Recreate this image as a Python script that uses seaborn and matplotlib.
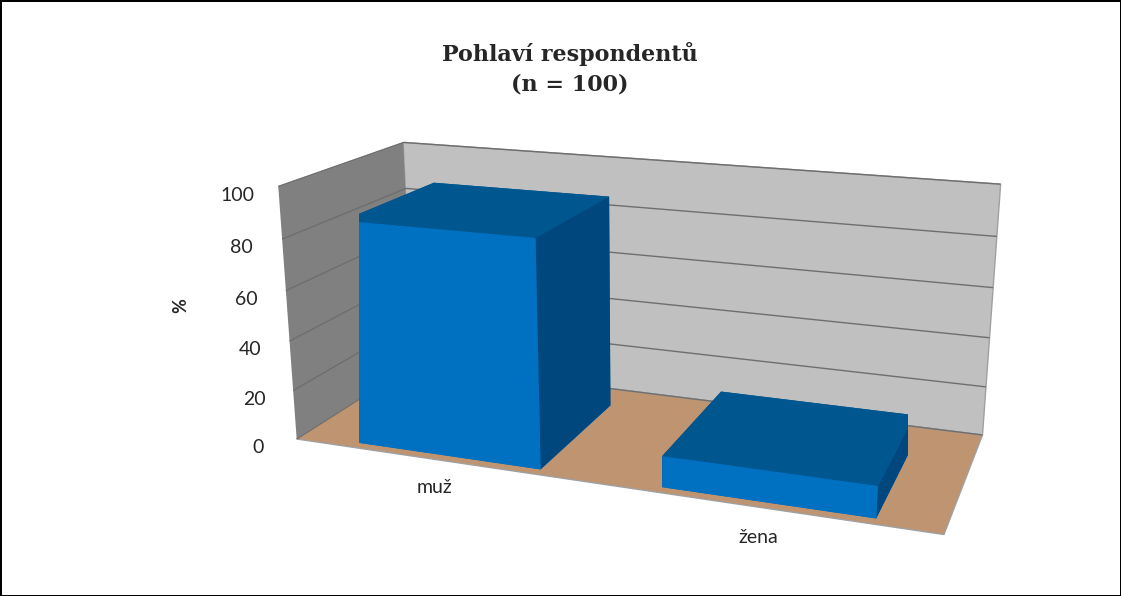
import numpy as np
import pandas as pd
import matplotlib
matplotlib.use("Agg")
import matplotlib.pyplot as plt
import seaborn as sns

# data
categories = ["muž", "žena"]
percent = [88, 12]
z_ticks = [0, 20, 40, 60, 80, 100]

front_color = "#0070C0"
top_color = "#00568F"
side_color = "#00477D"

sns.set_theme(style="white")
plt.rcParams["font.family"] = ["Lato", "DejaVu Sans"]

df = pd.DataFrame({"pohlavi": categories, "procento": percent})

fig = plt.figure(figsize=(11.21, 5.96), dpi=100)
fig.patch.set_edgecolor("black")
fig.patch.set_linewidth(2)

ax = fig.add_axes([0.135, 0.0, 0.86, 0.92], projection="3d")
ax.patch.set_alpha(0)
ax.view_init(elev=17, azim=-70)
ax.set_proj_type("persp", focal_length=0.5)
ax.set_box_aspect((2.75, 1.05, 1.1), zoom=1.33)

n = len(df)
xpos = np.arange(n)
width, depth = 0.62, 0.75
face_cols = []
for _ in range(n):
    # -z, +z, -y (front), +y, -x, +x (right side)
    face_cols += [front_color, top_color, front_color, top_color, side_color, side_color]

ax.bar3d(xpos - width / 2, np.full(n, 0.05), np.zeros(n), width, depth,
         df["procento"].to_numpy(), color=face_cols, shade=False,
         edgecolor="none", linewidth=0)

ax.set_xlim(-0.5, n - 0.5)
ax.set_ylim(0, 1)
ax.set_zlim(0, 100)
ax.set_xticks(xpos, df["pohlavi"], fontsize=14)
ax.set_yticks([])
ax.set_zticks(z_ticks, [str(t) for t in z_ticks], fontsize=14)
ax.zaxis.set_ticks_position("lower")

ax.xaxis.set_pane_color("#808080")
ax.yaxis.set_pane_color("#C0C0C0")
ax.zaxis.set_pane_color("#BF9470")
for a in (ax.xaxis, ax.yaxis, ax.zaxis):
    a.line.set_color((0, 0, 0, 0))
    a.pane.set_edgecolor("#A0A0A0")
    a._axinfo["tick"]["inward_factor"] = 0
    a._axinfo["tick"]["outward_factor"] = 0
ax.xaxis._axinfo["grid"]["color"] = (0, 0, 0, 0)
ax.yaxis._axinfo["grid"]["color"] = (0, 0, 0, 0)
ax.zaxis._axinfo["grid"]["color"] = "#6E6E6E"
ax.zaxis._axinfo["grid"]["linewidth"] = 1.0

fig.text(0.508, 0.884, "Pohlaví respondentů\n(n = 100)", ha="center", va="center",
         fontsize=16, fontweight="bold", family="DejaVu Serif", linespacing=1.45)
fig.text(0.161, 0.488, "%", ha="center", va="center", rotation=90,
         fontsize=13, fontweight="bold")

fig.savefig("out.png", dpi=100)
